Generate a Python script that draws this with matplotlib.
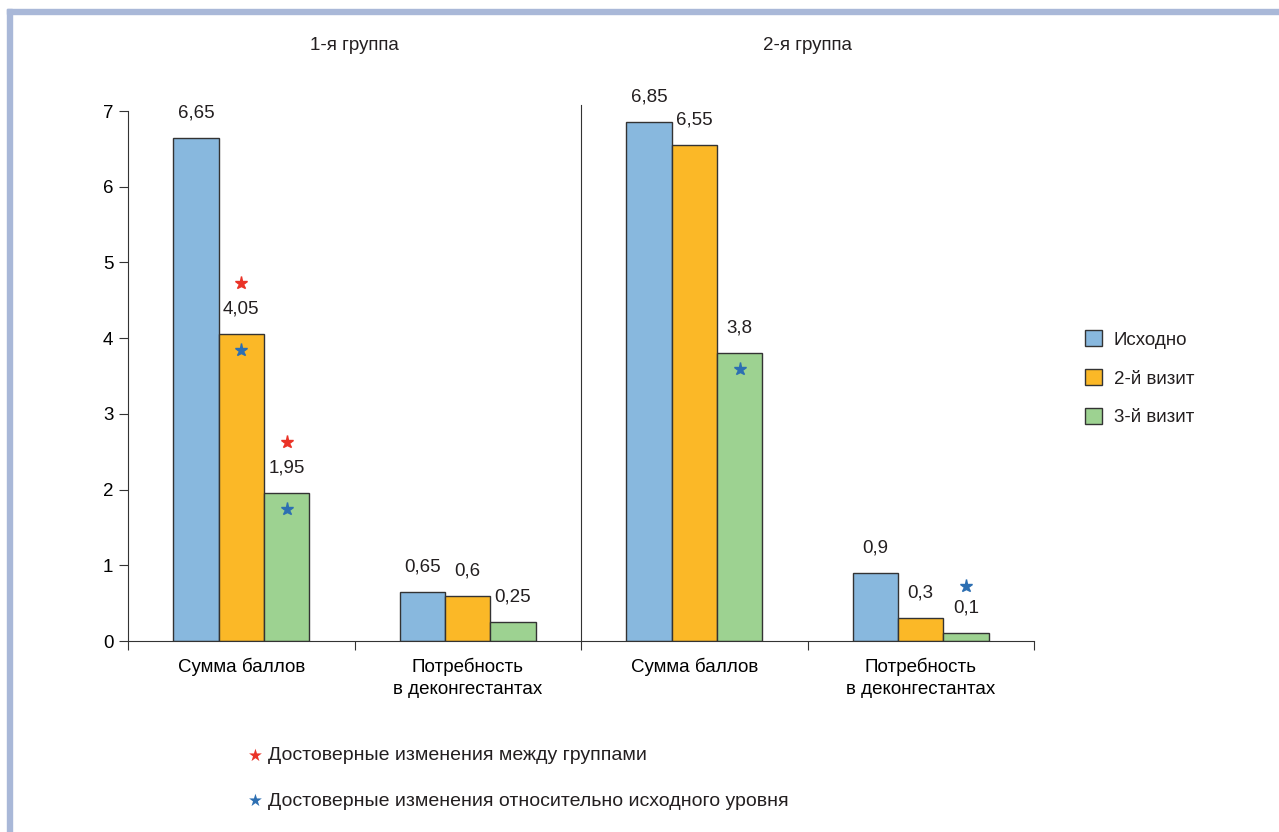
import numpy as np
import matplotlib.pyplot as plt
from matplotlib.patches import Rectangle, Patch
from matplotlib.transforms import offset_copy

plt.rcParams["font.family"] = ["Liberation Sans", "DejaVu Sans"]
plt.rcParams["text.color"] = "#231f20"

# Data
groups = ["1-я группа", "2-я группа"]
categories = ["Сумма баллов", "Потребность\nв деконгестантах",
              "Сумма баллов", "Потребность\nв деконгестантах"]
series = ["Исходно", "2-й визит", "3-й визит"]
baseline = [6.65, 0.65, 6.85, 0.9]
visit2 = [4.05, 0.6, 6.55, 0.3]
visit3 = [1.95, 0.25, 3.8, 0.1]
labels_base = ["6,65", "0,65", "6,85", "0,9"]
labels_v2 = ["4,05", "0,6", "6,55", "0,3"]
labels_v3 = ["1,95", "0,25", "3,8", "0,1"]
# significance marks: (category index, series index)
sig_between = [(0, 1), (0, 2)]
sig_baseline = [(0, 1), (0, 2), (2, 2), (3, 2)]
notes = ["Достоверные изменения между группами",
         "Достоверные изменения относительно исходного уровня"]

colors = ["#88b8de", "#fbb827", "#9dd291"]
edge = "#333333"
red_star = "#ea3327"
blue_star = "#2d6fb2"
fs = 13.5

fig = plt.figure(figsize=(12.79, 8.32), dpi=100)
ax = fig.add_axes([128 / 1279, 1 - 641 / 832, 906 / 1279, 530 / 832])

values = [baseline, visit2, visit3]
texts = [labels_base, labels_v2, labels_v3]
width = 0.2
x = np.arange(len(categories)) + 0.5
for i, (vals, labs) in enumerate(zip(values, texts)):
    xs = x + (i - 1) * width
    ax.bar(xs, vals, width, color=colors[i], edgecolor=edge, linewidth=1.0,
           label=series[i], zorder=2)
    for xi, v, t in zip(xs, vals, labs):
        ax.annotate(t, (xi, v), xytext=(0, 25), textcoords="offset pixels",
                    ha="center", va="center", fontsize=fs)

# stars: red above the value label, blue inside the bar (or above label for short bars)
for c, s in sig_between:
    v = values[s][c]
    tr = offset_copy(ax.transData, fig=fig, x=0, y=51, units="dots")
    ax.plot(x[c] + (s - 1) * width, v, marker="*", ms=9.5, color=red_star,
            mec=red_star, transform=tr, clip_on=False, zorder=3)
for c, s in sig_baseline:
    v = values[s][c]
    dy = -16 if v > 1 else 47
    tr = offset_copy(ax.transData, fig=fig, x=0, y=dy, units="dots")
    ax.plot(x[c] + (s - 1) * width, v, marker="*", ms=9.5, color=blue_star,
            mec=blue_star, transform=tr, clip_on=False, zorder=3)

ax.set_xlim(0, 4)
ax.set_ylim(0, 7)
ax.set_yticks(range(8))
ax.set_xticks(range(5))
ax.set_xticklabels([])
ax.set_xticks(x, minor=True)
ax.set_xticklabels(categories, minor=True, fontsize=fs, linespacing=1.35)
ax.tick_params(axis="x", which="minor", length=0, pad=12)
ax.tick_params(axis="both", which="major", direction="out", length=6.5,
               width=0.8, color=edge, labelsize=fs, pad=4)
for side in ["top", "right"]:
    ax.spines[side].set_visible(False)
for side in ["left", "bottom"]:
    ax.spines[side].set_color(edge)
    ax.spines[side].set_linewidth(0.8)

# divider between the two groups
ax.plot([2, 2], [0, 7.08], color=edge, lw=0.8, clip_on=False)
for gx, g in zip([1, 3], groups):
    ax.text(gx, 7.86, g, ha="center", va="center", fontsize=fs)

handles = [Patch(facecolor=colors[i], edgecolor=edge, linewidth=1.0, label=series[i])
           for i in range(3)]
fig.legend(handles=handles, loc="upper left", bbox_to_anchor=(1076 / 1279, 1 - 321 / 832),
           frameon=False, fontsize=fs, handlelength=0.9, handleheight=0.9,
           handletextpad=0.6, labelspacing=1.1, borderpad=0)

# footnotes
for i, (note, col) in enumerate(zip(notes, [red_star, blue_star])):
    yf = 1 - (756 + 45 * i) / 832
    fig.text(255 / 1279, yf, "★", color=col, fontsize=12, ha="center", va="center",
             family="DejaVu Sans")
    fig.text(268 / 1279, yf, note, fontsize=14, ha="left", va="center")

# page frame
frame = "#a9b8d8"
fig.patches.append(Rectangle((7 / 1279, 0), 5 / 1279, 1 - 9 / 832, color=frame,
                             transform=fig.transFigure, figure=fig))
fig.patches.append(Rectangle((7 / 1279, 1 - 14 / 832), 1 - 7 / 1279, 5 / 832, color=frame,
                             transform=fig.transFigure, figure=fig))

fig.savefig("out.png", dpi=100)
